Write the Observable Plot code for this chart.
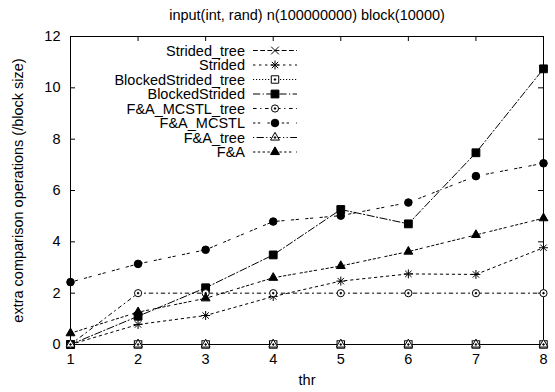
<!DOCTYPE html>
<html><head><meta charset="utf-8">
<script src="https://cdn.jsdelivr.net/npm/d3@7"></script>
<script src="https://cdn.jsdelivr.net/npm/@observablehq/plot@0.6"></script>
<style>
body{margin:0;background:#fff;}
#chart{width:555px;height:392px;}
</style></head><body><div id="chart"></div>
<script>
const threads = [1,2,3,4,5,6,7,8];
const yTicks = [0,2,4,6,8,10,12];
const seriesNames = ["Strided_tree","Strided","BlockedStrided_tree","BlockedStrided","F&A_MCSTL_tree","F&A_MCSTL","F&A_tree","F&A"];
const stridedTree        = [0,0,0,0,0,0,0,0];
const strided            = [0,0.78,1.13,1.87,2.47,2.75,2.73,3.77];
const blockedStridedTree = [0,0,0,0,0,0,0,0];
const blockedStrided     = [0,1.10,2.21,3.49,5.26,4.70,7.47,10.74];
const faMcstlTree        = [0,2,2,2,2,2,2,2];
const faMcstl            = [2.43,3.14,3.69,4.79,5.02,5.53,6.56,7.06];
const faTree             = [0,0,0,0,0,0,0,0];
const fa                 = [0.44,1.26,1.80,2.60,3.06,3.62,4.27,4.92];
const seriesValues = [stridedTree, strided, blockedStridedTree, blockedStrided, faMcstlTree, faMcstl, faTree, fa];

const k = 1.2;
const dashes = [[4,2],[2,3],[1,1.5],[6,2,1,2],[3,3,1,3],[2,2,2,6],[1,2,6,2,1,2],[2,2,2,2,2,2,2,4]]
  .map(a => a.map(v => v*k).join(","));
const markers = [
  [["times",3.6,"none"]],
  [["plus",3,"none"],["times",3,"none"]],
  [["square",4.2,"white"],["circle",0.8,"black"]],
  [["square",4.4,"black"]],
  [["circle",3.6,"white"],["circle",0.8,"black"]],
  [["circle",3.8,"black"]],
  [["triangle",3.3,"white"],["circle",0.8,"black"]],
  [["triangle",3.3,"black"]]
];

const rows = [];
seriesNames.forEach((name, s) => threads.forEach((t, i) => rows.push({series: name, s, thr: t, value: seriesValues[s][i]})));

const font = "Liberation Sans, Arial, Helvetica, sans-serif";
const FS = 14.5;
const W = 555, H = 392, mL = 70, mR = 12, mT = 36, mB = 48;
const innerH = H - mT - mB, innerW = W - mL - mR;

const marks = [
  Plot.frame({stroke: "black", strokeWidth: 1}),
  Plot.tickX(threads, {x: d => d, insetTop: innerH - 5, stroke: "black"}),
  Plot.tickX(threads, {x: d => d, insetBottom: innerH - 5, stroke: "black"}),
  Plot.tickY(yTicks, {y: d => d, insetRight: innerW - 5, stroke: "black"}),
  Plot.tickY(yTicks, {y: d => d, insetLeft: innerW - 5, stroke: "black"}),
  Plot.axisX({ticks: threads, tickSize: 0, tickPadding: 9, label: null, tickFormat: d => d, fontSize: FS}),
  Plot.axisY({ticks: yTicks, tickSize: 0, tickPadding: 10, label: null, tickFormat: d => d, fontSize: FS}),
  Plot.text(["input(int, rand) n(100000000) block(10000)"], {frameAnchor: "top", dy: -21, text: d => d, lineAnchor: "middle", textAnchor: "middle", fontSize: FS}),
  Plot.text(["thr"], {frameAnchor: "bottom", dy: 36, text: d => d, lineAnchor: "middle", textAnchor: "middle", fontSize: FS}),
  Plot.text(["extra comparison operations (/block size)"], {frameAnchor: "left", dx: -52, rotate: -90, text: d => d, lineAnchor: "middle", textAnchor: "middle", fontSize: FS})
];
seriesNames.forEach((name, s) => {
  const data = rows.filter(r => r.s === s);
  marks.push(Plot.line(data, {x: "thr", y: "value", stroke: "black", strokeWidth: 1, strokeDasharray: dashes[s]}));
});
seriesNames.forEach((name, s) => {
  const data = rows.filter(r => r.s === s);
  markers[s].forEach(([sym, r, fill]) => {
    marks.push(Plot.dot(data, {x: "thr", y: "value", symbol: sym, r, fill: (sym === "times" || sym === "plus") ? "none" : fill, stroke: "black", strokeWidth: 1}));
  });
});

const chart = Plot.plot({
  width: W, height: H,
  marginLeft: mL, marginRight: mR, marginTop: mT, marginBottom: mB,
  x: {domain: [1, 8]},
  y: {domain: [0, 12]},
  style: {fontFamily: font, fontSize: FS + "px", background: "white", color: "black"},
  marks
});
document.getElementById("chart").appendChild(chart);

// legend inside the plot area
const svg = d3.select(chart);
const symMap = {times: d3.symbolTimes, plus: d3.symbolPlus, square: d3.symbolSquare, circle: d3.symbolCircle, triangle: d3.symbolTriangle};
const lg = svg.append("g").attr("font-family", font).attr("font-size", FS);
seriesNames.forEach((name, s) => {
  const y = 50.5 + s * 14.5;
  lg.append("text").attr("x", 245).attr("y", y).attr("dy", "0.35em").attr("text-anchor", "end").attr("fill", "black").text(name);
  lg.append("line").attr("x1", 253).attr("x2", 297).attr("y1", y).attr("y2", y)
    .attr("stroke", "black").attr("stroke-width", 1).attr("stroke-dasharray", dashes[s]);
  markers[s].forEach(([sym, r, fill]) => {
    lg.append("path").attr("transform", `translate(275,${y})`)
      .attr("d", d3.symbol(symMap[sym], r * r * Math.PI)())
      .attr("fill", (sym === "times" || sym === "plus") ? "none" : fill)
      .attr("stroke", "black").attr("stroke-width", 1);
  });
});
</script></body></html>
